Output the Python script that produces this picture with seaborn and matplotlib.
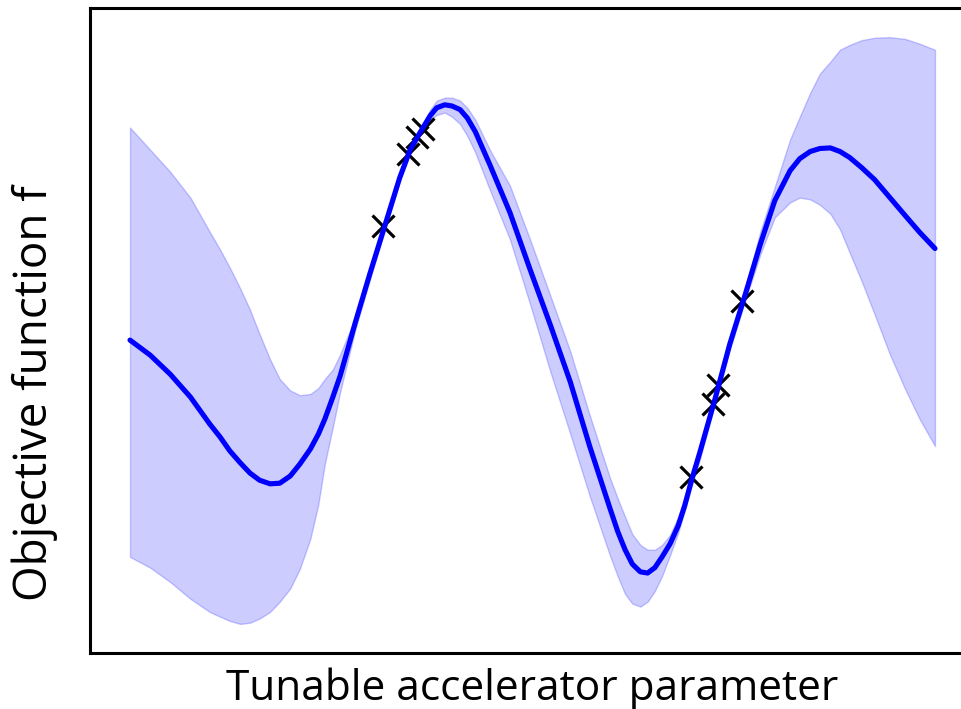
import matplotlib
matplotlib.use("Agg")
import matplotlib.pyplot as plt
import numpy as np
import pandas as pd
import seaborn as sns

# Gaussian-process surrogate of the objective over one tunable parameter
param = [0.00, 0.25, 0.50, 0.75, 0.99, 1.12, 1.24, 1.37, 1.49, 1.61,
         1.74, 1.86, 1.99, 2.11, 2.24, 2.34, 2.42, 2.52, 2.61, 2.80,
         2.98, 3.17, 3.35, 3.48, 3.60, 3.73, 3.81, 3.91, 4.00, 4.10,
         4.19, 4.29, 4.47, 4.72, 4.97, 5.22, 5.47, 5.71, 5.96, 6.06,
         6.15, 6.24, 6.34, 6.43, 6.52, 6.61, 6.71, 6.81, 6.89, 6.98,
         7.08, 7.27, 7.45, 7.64, 7.83, 8.01, 8.20, 8.32, 8.45, 8.57,
         8.70, 8.82, 8.94, 9.09, 9.25, 9.44, 9.63, 9.81, 10.00]

mean = [5.32, 5.07, 4.75, 4.37, 3.92, 3.70, 3.47, 3.27, 3.10, 2.98,
        2.92, 2.93, 3.05, 3.25, 3.50, 3.75, 4.00, 4.37, 4.72, 5.62,
        6.43, 7.25, 8.03, 8.50, 8.78, 9.07, 9.20, 9.25, 9.23, 9.17,
        9.03, 8.80, 8.25, 7.45, 6.50, 5.58, 4.62, 3.55, 2.52, 2.12,
        1.82, 1.58, 1.45, 1.43, 1.52, 1.70, 1.92, 2.22, 2.55, 3.00,
        3.45, 4.35, 5.25, 6.07, 6.92, 7.65, 8.15, 8.35, 8.47, 8.52,
        8.53, 8.47, 8.37, 8.20, 8.00, 7.70, 7.40, 7.12, 6.85]

upper = [8.87, 8.50, 8.13, 7.70, 7.13, 6.83, 6.53, 6.18, 5.83, 5.42,
         5.00, 4.67, 4.48, 4.40, 4.42, 4.52, 4.67, 4.83, 5.08, 5.70,
         6.50, 7.32, 8.10, 8.57, 8.83, 9.17, 9.32, 9.37, 9.37, 9.32,
         9.20, 9.00, 8.50, 7.90, 7.00, 6.07, 5.13, 4.07, 3.03, 2.67,
         2.37, 2.08, 1.90, 1.82, 1.82, 1.90, 2.07, 2.37, 2.70, 3.10,
         3.55, 4.42, 5.33, 6.17, 7.13, 7.88, 8.67, 9.05, 9.45, 9.77,
         9.97, 10.17, 10.25, 10.33, 10.37, 10.38, 10.35, 10.27, 10.17]

lower = [1.70, 1.52, 1.28, 1.00, 0.78, 0.70, 0.63, 0.58, 0.60, 0.67,
         0.78, 0.95, 1.17, 1.50, 2.00, 2.58, 3.25, 3.87, 4.45, 5.50,
         6.33, 7.17, 7.97, 8.42, 8.73, 9.00, 9.08, 9.12, 9.05, 8.93,
         8.73, 8.45, 7.83, 7.00, 5.92, 4.80, 3.75, 2.72, 1.73, 1.37,
         1.08, 0.92, 0.87, 0.95, 1.13, 1.38, 1.73, 2.10, 2.47, 2.90,
         3.33, 4.27, 5.15, 5.97, 6.75, 7.37, 7.62, 7.70, 7.67, 7.58,
         7.43, 7.17, 6.78, 6.30, 5.75, 5.08, 4.50, 4.00, 3.55]

# Evaluated settings (observations)
obs_x = [3.14, 3.45, 3.57, 3.64, 6.97, 7.24, 7.30, 7.60]
obs_y = [7.23, 8.42, 8.72, 8.85, 3.03, 4.25, 4.57, 5.98]

sns.set_style("white")
plt.rcParams["font.family"] = ["Open Sans", "DejaVu Sans"]

gp = pd.DataFrame({"param": param, "mean": mean, "upper": upper, "lower": lower})
obs = pd.DataFrame({"param": obs_x, "f": obs_y})

fig = plt.figure(figsize=(9.61, 7.09), dpi=100)
ax = fig.add_axes([0.0934, 0.0786, 0.9214, 0.9104])

ax.fill_between(gp["param"], gp["lower"], gp["upper"], color="blue", alpha=0.2,
                linewidth=1.0, zorder=1)
sns.scatterplot(data=obs, x="param", y="f", marker="x", s=250, color="black",
                linewidth=2.3, ax=ax, zorder=2)
sns.lineplot(data=gp, x="param", y="mean", color="blue", linewidth=3.7,
             estimator=None, ax=ax, zorder=3)

ax.set_xticks([])
ax.set_yticks([])
for side in ["left", "right", "top", "bottom"]:
    ax.spines[side].set_visible(True)
    ax.spines[side].set_color("black")
    ax.spines[side].set_linewidth(2.2)

ax.set_xlabel("Tunable accelerator parameter", fontsize=30.5, color="black")
ax.set_ylabel("Objective function f", fontsize=33, color="black")
ax.xaxis.set_label_coords(0.5, -0.022)
ax.xaxis.label.set_verticalalignment("top")
ax.yaxis.set_label_coords(-0.036, 0.403)

fig.savefig("out.png", dpi=100)
